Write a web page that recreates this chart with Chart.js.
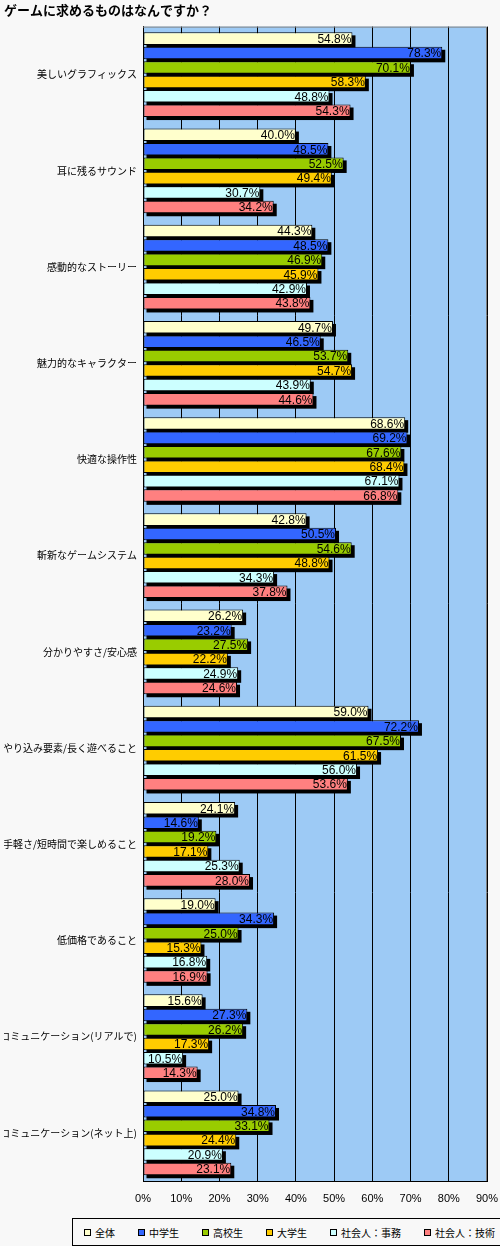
<!DOCTYPE html>
<html lang="ja">
<head>
<meta charset="utf-8">
<script src="https://cdn.jsdelivr.net/npm/chart.js@4/dist/chart.umd.min.js"></script>
<style>
  html, body { margin: 0; padding: 0; background: #f8f8f8; }
  #wrap { position: relative; width: 500px; height: 1246px; overflow: hidden; }
  #legend {
    position: absolute; left: 72px; top: 1218px; width: 440px; height: 26px;
    border: 1px solid #000; background: #f8f8f8; box-sizing: content-box;
    display: flex; align-items: center; padding-left: 11px;
    font: 10px "Noto Sans CJK JP", sans-serif; color: #000;
  }
  #legend .item { display: flex; align-items: center; margin-right: 23px; white-space: nowrap; }
  #legend .box { width: 5px; height: 5px; border: 1px solid #000; margin-right: 4px; }
</style>
</head>
<body>
<div id="wrap">
  <canvas id="chart" width="500" height="1246"></canvas>
  <div id="legend"></div>
</div>
<script>
// 項目
const categories = [
  '美しいグラフィックス',
  '耳に残るサウンド',
  '感動的なストーリー',
  '魅力的なキャラクター',
  '快適な操作性',
  '斬新なゲームシステム',
  '分かりやすさ/安心感',
  'やり込み要素/長く遊べること',
  '手軽さ/短時間で楽しめること',
  '低価格であること',
  'コミュニケーション(リアルで)',
  'コミュニケーション(ネット上)'
];

const seriesNames = ['全体', '中学生', '高校生', '大学生', '社会人：事務', '社会人：技術'];

// 値 (%)
const zentai     = [54.8, 40.0, 44.3, 49.7, 68.6, 42.8, 26.2, 59.0, 24.1, 19.0, 15.6, 25.0];
const chugakusei = [78.3, 48.5, 48.5, 46.5, 69.2, 50.5, 23.2, 72.2, 14.6, 34.3, 27.3, 34.8];
const kokosei    = [70.1, 52.5, 46.9, 53.7, 67.6, 54.6, 27.5, 67.5, 19.2, 25.0, 26.2, 33.1];
const daigakusei = [58.3, 49.4, 45.9, 54.7, 68.4, 48.8, 22.2, 61.5, 17.1, 15.3, 17.3, 24.4];
const jimu       = [48.8, 30.7, 42.9, 43.9, 67.1, 34.3, 24.9, 56.0, 25.3, 16.8, 10.5, 20.9];
const gijutsu    = [54.3, 34.2, 43.8, 44.6, 66.8, 37.8, 24.6, 53.6, 28.0, 16.9, 14.3, 23.1];

const seriesValues = [zentai, chugakusei, kokosei, daigakusei, jimu, gijutsu];
const seriesColors = ['#ffffcc', '#3366ff', '#99cc00', '#ffcc00', '#ccffff', '#ff8080'];

const axisMax = 90;
const axisStep = 10;

/* 背景と枠 */
const plotBackground = {
    id: 'plotBackground',
    beforeDraw(chart) {
        const { ctx, chartArea: a } = chart;
        ctx.save();
        ctx.fillStyle = '#9dcaf5';
        ctx.fillRect(a.left, a.top, a.right - a.left, a.bottom - a.top);
        ctx.restore();
    },
    afterDraw(chart) {
        const { ctx, chartArea: a } = chart;
        ctx.save();
        ctx.strokeStyle = '#808080';
        ctx.lineWidth = 1;
        ctx.beginPath();
        ctx.moveTo(a.left, a.top + 0.5);
        ctx.lineTo(a.right - 0.5, a.top + 0.5);
        ctx.lineTo(a.right - 0.5, a.bottom);
        ctx.stroke();
        ctx.restore();
    }
};

/* 棒の影 */
const barShadow = {
    id: 'barShadow',
    beforeDatasetsDraw(chart) {
        const ctx = chart.ctx;
        ctx.save();
        ctx.fillStyle = '#000';
        chart.data.datasets.forEach((ds, i) => {
            const meta = chart.getDatasetMeta(i);
            if (meta.hidden) return;
            meta.data.forEach((bar) => {
                const { x, y, base, height } = bar.getProps(['x', 'y', 'base', 'height'], true);
                ctx.fillRect(Math.min(x, base) + 3, y - height / 2 + 3, Math.abs(x - base), height);
            });
        });
        ctx.restore();
    }
};

/* 数値ラベル */
const valueLabels = {
    id: 'valueLabels',
    afterDatasetsDraw(chart) {
        const ctx = chart.ctx;
        ctx.save();
        ctx.font = '12px "Liberation Sans", sans-serif';
        ctx.fillStyle = '#000';
        ctx.textAlign = 'right';
        ctx.textBaseline = 'middle';
        chart.data.datasets.forEach((ds, i) => {
            const meta = chart.getDatasetMeta(i);
            meta.data.forEach((bar, j) => {
                const { x, y } = bar.getProps(['x', 'y'], true);
                ctx.fillText(ds.data[j].toFixed(1) + '%', x - 1, y + 1);
            });
        });
        ctx.restore();
    }
};

new Chart(document.getElementById('chart'), {
    type: 'bar',
    data: {
        labels: categories,
        datasets: seriesNames.map((name, i) => ({
            label: name,
            data: seriesValues[i],
            backgroundColor: seriesColors[i],
            borderColor: '#000',
            borderWidth: 1,
            borderSkipped: false,
            categoryPercentage: 0.9,
            barPercentage: 0.87
        }))
    },
    options: {
        indexAxis: 'y',
        responsive: false,
        animation: false,
        devicePixelRatio: 1,
        layout: { padding: { left: 4, right: 13, top: 0, bottom: 28 } },
        plugins: {
            legend: { display: false },
            tooltip: { enabled: false },
            title: {
                display: true,
                text: 'ゲームに求めるものはなんですか？',
                align: 'start',
                color: '#000',
                font: { family: '"Noto Sans CJK JP", sans-serif', size: 13, weight: 'bold' },
                padding: { top: 2, bottom: 9 }
            }
        },
        scales: {
            x: {
                min: 0,
                max: axisMax,
                ticks: {
                    stepSize: axisStep,
                    color: '#000',
                    padding: 11,
                    font: { family: '"Liberation Sans", sans-serif', size: 11 },
                    callback: (v) => v + '%'
                },
                grid: { color: '#000', lineWidth: 1, drawTicks: false },
                border: { display: true, color: '#000' },
                afterFit(scale) {
                    scale.height = 37;
                    scale.paddingLeft = 0;
                    scale.paddingRight = 0;
                }
            },
            y: {
                ticks: {
                    color: '#000',
                    padding: 6,
                    font: { family: '"Noto Sans CJK JP", sans-serif', size: 10 }
                },
                grid: { display: false, drawTicks: false, tickLength: 0 },
                border: { display: true, color: '#000' },
                afterFit(scale) { scale.width = 139; }
            }
        }
    },
    plugins: [plotBackground, barShadow, valueLabels]
});

/* 凡例 */
const legendEl = document.getElementById('legend');
seriesNames.forEach((name, i) => {
    const item = document.createElement('div');
    item.className = 'item';
    const box = document.createElement('span');
    box.className = 'box';
    box.style.background = seriesColors[i];
    const text = document.createElement('span');
    text.textContent = name;
    item.appendChild(box);
    item.appendChild(text);
    legendEl.appendChild(item);
});
</script>
</body>
</html>
